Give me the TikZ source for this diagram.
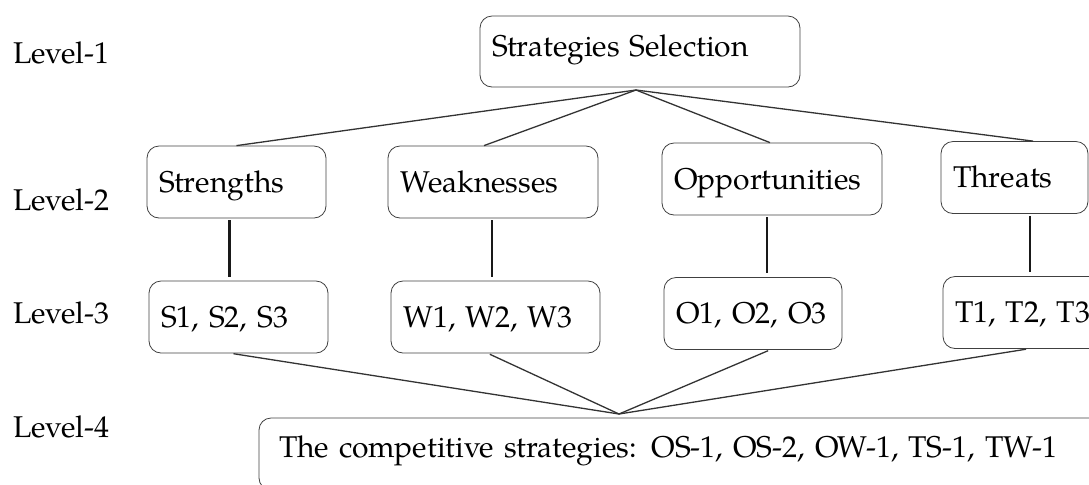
\documentclass[tikz,border=0pt]{standalone}
\usepackage{fontspec}
\setmainfont{TeX Gyre Pagella}
\usetikzlibrary{positioning}

\begin{document}
\begin{tikzpicture}[
    x=0.5pt,
    y=-0.5pt,
    font=\fontsize{15}{18}\selectfont,
    thin
  ]

  % Styles
  \tikzstyle{box}=[draw=black!75, rounded corners=6pt, align=left, inner xsep=6pt, inner ysep=0pt, text height=10pt, text depth=0pt, minimum height=36pt]
  \tikzstyle{link}=[draw=black!80, line width=0.65pt]
  \tikzstyle{stem}=[draw=black!90, line width=1.1pt, shorten <=1pt, shorten >=2pt]
  \tikzstyle{level}=[anchor=west, inner sep=0pt, text height=10pt, text depth=0pt]

  \useasboundingbox (0,0) rectangle (1089,484);

  % Level labels
  \node[level] (lv1) at (13,53.5) {Level-1};
  \node[level] (lv2) at (13,200) {Level-2};
  \node[level] (lv3) at (13,313.5) {Level-3};
  \node[level] (lv4) at (13,427) {Level-4};

  % Level-1
  \node[box, text width=148pt, minimum height=35.5pt, text depth=5pt] (sel) at (640,51.5) {Strategies Selection};

  % Level-2
  \node[box, text width=77.5pt] (str) at (236.5,182) {Strengths};
  \node[box, text width=93pt] (wea) at (493,182) {Weaknesses};
  \node[box, text width=98pt] (opp) at (772,179) {Opportunities};
  \node[box, text width=61.5pt] (thr) at (1014.5,177.5) {Threats};

  % Level-3
  \node[box, text width=77.5pt] (s3) at (238.5,317) {S1, S2, S3};
  \node[box, text width=92.5pt] (w3) at (495.5,317) {W1, W2, W3};
  \node[box, text width=77pt] (o3) at (753,313.5) {O1, O2, O3};
  \node[box, text width=78pt] (t3) at (1033,312.5) {T1, T2, T3};

  % Level-4
  \node[box, text width=425.5pt, inner xsep=10pt, text depth=7pt] (comp) at (704.5,454) {The competitive strategies: OS-1, OS-2, OW-1, TS-1, TW-1};

  % Meeting points
  \coordinate (hub1) at (636,90);
  \coordinate (hub2) at (619,414);

  % Level-1 to level-2
  \draw[link] (hub1) -- (str.north);
  \draw[link] (hub1) -- ([xshift=-4.5pt]wea.north);
  \draw[link] (hub1) -- ([xshift=-1pt]opp.north);
  \draw[link] (hub1) -- ([xshift=9.25pt]thr.north);

  % Level-2 to level-3
  \draw[stem] ([xshift=-3.5pt]str.south) -- ([xshift=-4.5pt]s3.north);
  \draw[stem] ([xshift=-0.5pt]wea.south) -- ([xshift=-1.75pt]w3.north);
  \draw[stem] ([xshift=-2.5pt]opp.south) -- ([xshift=7pt]o3.north);
  \draw[stem] ([xshift=7.75pt]thr.south) -- ([xshift=-1.5pt]t3.north);

  % Level-3 to level-4
  \draw[link, shorten <=1pt] ([xshift=-3.5pt]s3.south) -- (hub2);
  \draw[link, shorten <=1pt] ([xshift=-3.75pt]w3.south) -- (hub2);
  \draw[link, shorten <=1pt] ([xshift=8.5pt]o3.south) -- (hub2);
  \draw[link, shorten <=1pt] ([xshift=-2.5pt]t3.south) -- (hub2);

\end{tikzpicture}
\end{document}
